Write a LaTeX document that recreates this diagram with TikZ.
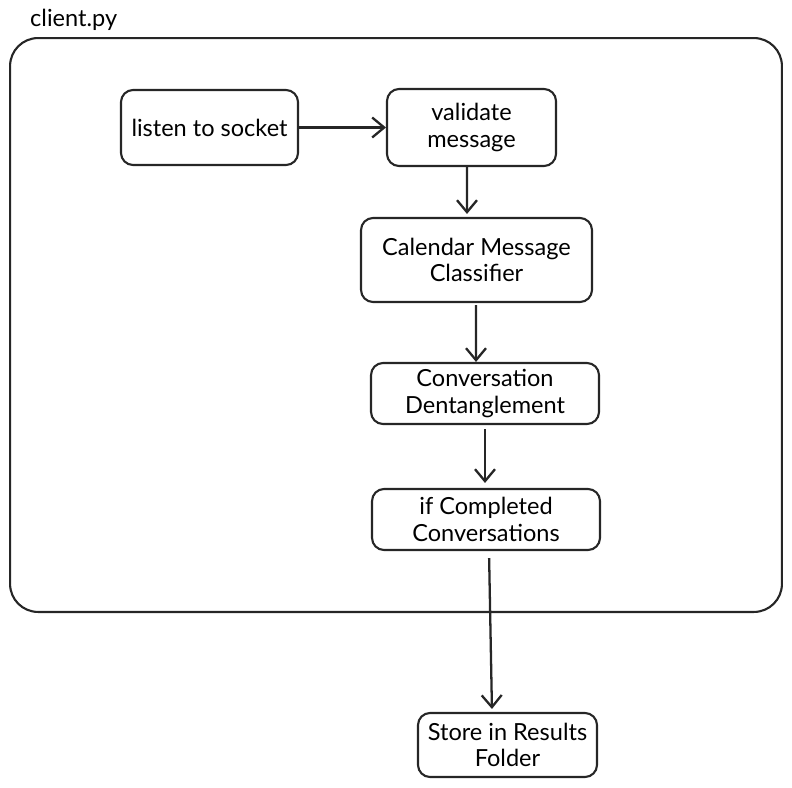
\documentclass[tikz,border=0pt]{standalone}
\usepackage{fontspec}
\setmainfont{Lato}
\usetikzlibrary{arrows.meta,positioning}

\begin{document}
\begin{tikzpicture}[x=0.02cm, y=-0.02cm,
        stepbox/.style={rectangle, draw=black!85, line width=1.2pt,
                        rounded corners=0.24cm, align=center,
                        font=\fontsize{13.4}{15}\selectfont, inner sep=2pt},
        flow/.style={-{Straight Barb[length=0.24cm, width=0.4cm]},
                     line width=1.3pt, draw=black!85}
    ]

    \useasboundingbox (0,0) rectangle (792,788);

    %% ── client.py container ─────────────────────────────────────────────────
    \node[draw=black!85, line width=1.2pt, rounded corners=0.56cm,
          minimum width=15.44cm, minimum height=11.48cm] (client) at (396,325) {};
    \node[font=\fontsize{13.4}{15}\selectfont, anchor=west] (clientlbl) at (24,20) {client.py};

    %% ── processing steps ────────────────────────────────────────────────────
    \node[stepbox, minimum width=3.54cm, minimum height=1.50cm] (listen)   at (209.5,127.5) {listen to socket};
    \node[stepbox, minimum width=3.38cm, minimum height=1.54cm] (validate) at (471.5,127.5) {validate\\message};
    \node[stepbox, minimum width=4.62cm, minimum height=1.68cm] (classify) at (476.5,260)   {Calendar Message\\Classifier};
    \node[stepbox, minimum width=4.56cm, minimum height=1.22cm] (detangle) at (485,393.5)   {Conversation\\Dentanglement};
    \node[stepbox, minimum width=4.56cm, minimum height=1.22cm] (complete) at (486,519.5)   {if Completed\\Conversations};

    %% ── output outside the container ────────────────────────────────────────
    \node[stepbox, minimum width=3.58cm, minimum height=1.28cm] (store)    at (507.5,745)   {Store in Results\\Folder};

    %% ── flow arrows ─────────────────────────────────────────────────────────
    \draw[flow] (listen.east) -- (validate.west);
    \draw[flow, shorten >=0.06cm] ([xshift=-0.09cm]validate.south) -- ([xshift=-0.19cm]classify.north);
    \draw[flow, shorten <=0.04cm] ([xshift=-0.01cm]classify.south) -- ([xshift=-0.18cm]detangle.north);
    \draw[flow, shorten <=0.08cm, shorten >=0.1cm] (detangle.south) -- ([xshift=-0.02cm]complete.north);
    \draw[flow, shorten <=0.14cm, shorten >=0.06cm] ([xshift=0.06cm]complete.south) -- ([xshift=-0.31cm]store.north);

\end{tikzpicture}
\end{document}
